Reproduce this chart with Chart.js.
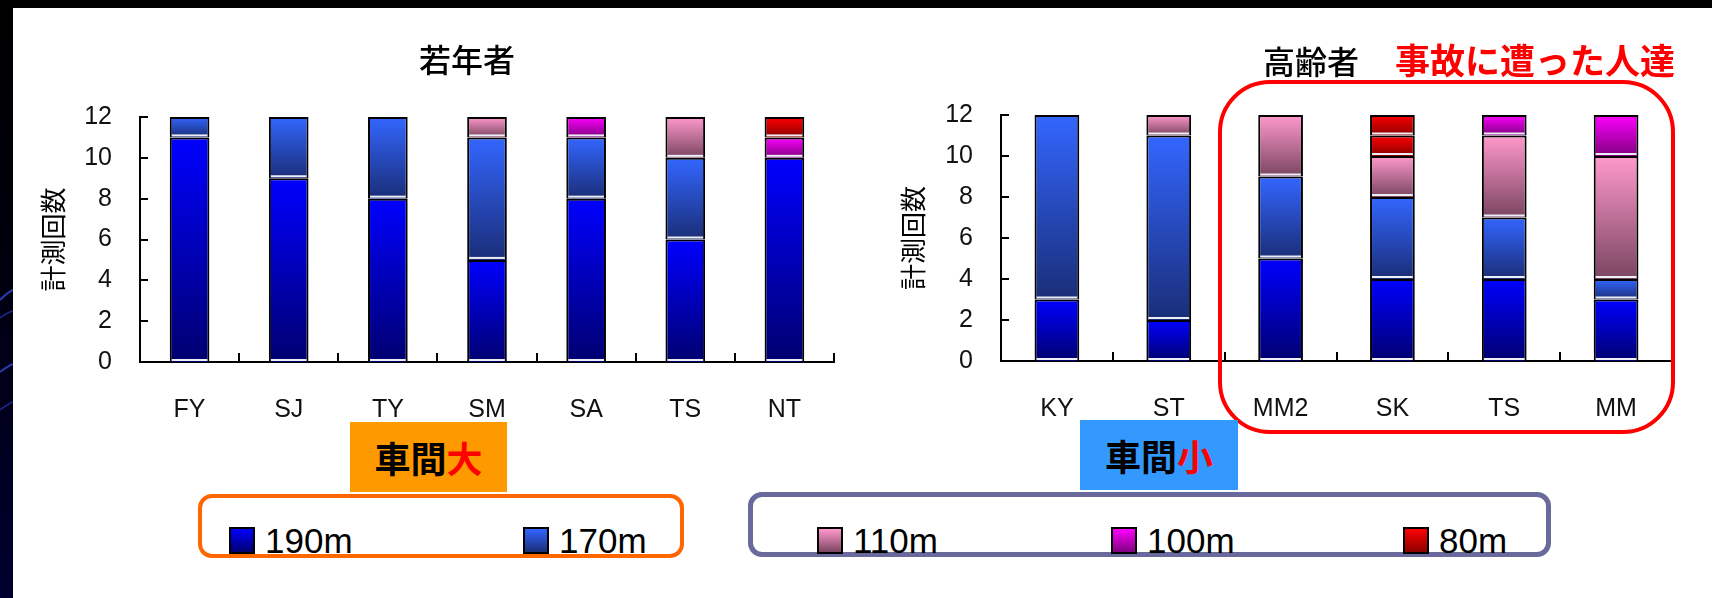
<!DOCTYPE html>
<html><head><meta charset="utf-8">
<script src="https://cdn.jsdelivr.net/npm/chart.js@4"></script>
<style>
html,body{margin:0;padding:0;background:#fff;}
body{width:1712px;height:598px;position:relative;overflow:hidden;font-family:'Noto Sans CJK JP',sans-serif;}
.abs{position:absolute;}
.title{position:absolute;font-family:'Noto Sans CJK JP',sans-serif;font-size:32px;font-weight:500;color:#000;line-height:1;white-space:nowrap;transform:translate(-50%,-50%);}
.red{color:#FF0000;}
.tag{position:absolute;display:flex;align-items:center;justify-content:center;font-family:'Noto Sans CJK JP',sans-serif;font-weight:bold;font-size:36px;color:#000;line-height:1;}
.legbox{position:absolute;box-sizing:border-box;background:#fff;}
.sw{position:absolute;box-sizing:border-box;width:26px;height:27px;top:527px;border:2px solid #000;}
.lt{position:absolute;top:523px;font-family:'Liberation Sans',Arial,sans-serif;font-size:35px;line-height:36px;color:#000;white-space:nowrap;}
</style></head><body>

<div class="abs" style="left:0;top:0;width:860px;height:440px"><canvas id="young" width="860" height="440"></canvas></div>
<div class="abs" style="left:860px;top:0;width:852px;height:440px"><canvas id="elder" width="852" height="440"></canvas></div>

<div class="title" style="left:467px;top:58px;">若年者</div>
<div class="title" style="left:1311px;top:60px;">高齢者</div>
<div class="title red" style="left:1535px;top:58px;font-size:35px;font-weight:bold;">事故に遭った人達</div>

<div class="abs" style="left:1218px;top:80px;width:457px;height:354px;box-sizing:border-box;border:4px solid #FF0000;border-radius:52px;"></div>

<div class="tag" style="left:350px;top:422px;width:157px;height:70px;background:#FF9900;">車間<span class="red">大</span></div>
<div class="tag" style="left:1080px;top:420px;width:158px;height:70px;background:#3399FF;">車間<span class="red">小</span></div>

<div class="legbox" style="left:198px;top:494px;width:486px;height:64px;border:4px solid #FF6600;border-radius:14px;"></div>
<div class="legbox" style="left:748px;top:492px;width:803px;height:65px;border:5px solid #69699C;border-radius:14px;"></div>
<div id="legend"></div>

<div class="abs" style="left:0;top:0;width:1712px;height:8px;background:#000;"></div>
<div class="abs" style="left:0;top:0;width:13px;height:598px;background:linear-gradient(to bottom,#000 0%,#00000c 40%,#000030 100%);">
<svg width="13" height="598" style="position:absolute;left:0;top:0">
<path d="M0 300 Q8 292 13 290" stroke="#2a3cb0" stroke-width="2" fill="none"/>
<path d="M0 318 Q8 312 13 311" stroke="#1c2a90" stroke-width="1.5" fill="none"/>
<path d="M0 372 Q8 366 13 364" stroke="#2a3cb0" stroke-width="2" fill="none"/>
<path d="M0 410 Q8 404 13 402" stroke="#1c2a90" stroke-width="1.5" fill="none"/>
</svg></div>

<script>
// ---- data ----
const youngCategories = ['FY','SJ','TY','SM','SA','TS','NT'];
const young190 = [11, 9, 8, 5, 8, 6, 10];
const young170 = [1, 3, 4, 6, 3, 4, 0];
const young110 = [0, 0, 0, 1, 0, 2, 0];
const young100 = [0, 0, 0, 0, 1, 0, 1];
const young80  = [0, 0, 0, 0, 0, 0, 1];

const elderCategories = ['KY','ST','MM2','SK','TS','MM'];
const elder190 = [3, 2, 5, 4, 4, 3];
const elder170 = [9, 9, 4, 4, 3, 1];
const elder110 = [0, 1, 3, 2, 4, 6];
const elder100 = [0, 0, 0, 0, 1, 2];
const elder80a = [0, 0, 0, 1, 0, 0];
const elder80b = [0, 0, 0, 1, 0, 0];

const yTicks = [0, 2, 4, 6, 8, 10, 12];
const seriesLabels = ['190m', '170m', '110m', '100m', '80m'];
const yTitle = '計測回数';

// ---- styles ----
const grad = {
  '190m': ['#0000FF', '#000070'],
  '170m': ['#3366FF', '#1A2E78'],
  '110m': ['#FF99CC', '#7A4560'],
  '100m': ['#FF00FF', '#800080'],
  '80m':  ['#FF0000', '#8C0000']
};

function bg(label) {
  return function(c) {
    const chart = c.chart;
    const cols = grad[label];
    if (!chart.chartArea || !chart.scales.y || c.dataIndex === undefined) return cols[0];
    const ys = chart.scales.y;
    let base = 0;
    for (let d = 0; d < c.datasetIndex; d++) base += chart.data.datasets[d].data[c.dataIndex] || 0;
    const v = chart.data.datasets[c.datasetIndex].data[c.dataIndex] || 0;
    const y0 = ys.getPixelForValue(base + v), y1 = ys.getPixelForValue(base);
    if (!(y1 > y0)) return cols[0];
    const g = chart.ctx.createLinearGradient(0, y0, 0, y1);
    g.addColorStop(0, cols[0]);
    g.addColorStop(1, cols[1]);
    return g;
  };
}

const decor = {
  id: 'decor',
  afterDatasetsDraw(chart) {
    const ctx = chart.ctx;
    ctx.save();
    chart.data.datasets.forEach((ds, di) => {
      const meta = chart.getDatasetMeta(di);
      meta.data.forEach((el, i) => {
        if (!ds.data[i]) return;
        const p = el.getProps(['x', 'base', 'width'], true);
        ctx.fillStyle = '#EEEEF6';
        ctx.fillRect(p.x - p.width / 2 + 2, p.base - 3, p.width - 4, 2);
      });
    });
    ctx.restore();
  },
  afterDraw(chart) {
    const ctx = chart.ctx, a = chart.chartArea;
    const ys = chart.scales.y;
    const n = chart.data.labels.length;
    ctx.save();
    ctx.strokeStyle = '#000';
    ctx.lineWidth = 2;
    ctx.beginPath();
    ys.ticks.forEach(t => {
      const y = Math.round(ys.getPixelForValue(t.value));
      ctx.moveTo(a.left, y); ctx.lineTo(a.left + 8, y);
    });
    for (let i = 1; i <= n; i++) {
      const x = Math.round(a.left + i * (a.right - a.left) / n);
      ctx.moveTo(x, a.bottom); ctx.lineTo(x, a.bottom - 9);
    }
    ctx.stroke();
    ctx.restore();
  }
};

function makeChart(id, cats, seriesList, geom) {
  const datasets = seriesList.map(s => ({
    label: s.label,
    data: s.data,
    backgroundColor: bg(s.label),
    borderColor: '#000',
    borderWidth: 2,
    borderSkipped: 'start',
    barPercentage: 0.4,
    categoryPercentage: 1.0
  }));
  return new Chart(document.getElementById(id), {
    type: 'bar',
    data: { labels: cats, datasets },
    plugins: [decor],
    options: {
      responsive: false,
      animation: false,
      layout: { padding: { top: geom.top, right: geom.right, left: 0, bottom: 0 } },
      plugins: { legend: { display: false }, title: { display: false }, tooltip: { enabled: false } },
      scales: {
        x: {
          stacked: true,
          grid: { display: false, drawTicks: false },
          border: { display: true, color: '#000', width: 2 },
          ticks: { color: '#111', padding: geom.xpad, font: { family: "'Liberation Sans', Arial, sans-serif", size: 25 } },
          afterFit: s => { s.height = geom.xh; }
        },
        y: {
          stacked: true,
          min: 0, max: 12,
          afterBuildTicks: s => { s.ticks = yTicks.map(v => ({ value: v })); },
          grid: { display: false, drawTicks: false },
          border: { display: true, color: '#000', width: 2 },
          ticks: { color: '#111', padding: 28, font: { family: "'Liberation Sans', Arial, sans-serif", size: 25 } },
          title: { display: true, text: yTitle, color: '#000', padding: { top: 38, bottom: 0 },
                   font: { family: "'Noto Sans CJK JP', sans-serif", size: 26 } },
          afterFit: s => { s.width = geom.yw; }
        }
      }
    }
  });
}

makeChart('young', youngCategories, [
  { label: '190m', data: young190 },
  { label: '170m', data: young170 },
  { label: '110m', data: young110 },
  { label: '100m', data: young100 },
  { label: '80m',  data: young80 }
], { top: 117, right: 26, xh: 78, yw: 140, xpad: 33 });

makeChart('elder', elderCategories, [
  { label: '190m', data: elder190 },
  { label: '170m', data: elder170 },
  { label: '110m', data: elder110 },
  { label: '100m', data: elder100 },
  { label: '80m',  data: elder80a },
  { label: '80m',  data: elder80b }
], { top: 115, right: 40, xh: 79, yw: 141, xpad: 33 });

// ---- legend (HTML) ----
const legendX = [229, 523, 817, 1111, 1403];
const leg = document.getElementById('legend');
seriesLabels.forEach((lab, i) => {
  const sw = document.createElement('div');
  sw.className = 'sw';
  sw.style.left = legendX[i] + 'px';
  sw.style.background = 'linear-gradient(to bottom,' + grad[lab][0] + ',' + grad[lab][1] + ')';
  leg.appendChild(sw);
  const t = document.createElement('div');
  t.className = 'lt';
  t.style.left = (legendX[i] + 36) + 'px';
  t.textContent = lab;
  leg.appendChild(t);
});
</script>
</body></html>
